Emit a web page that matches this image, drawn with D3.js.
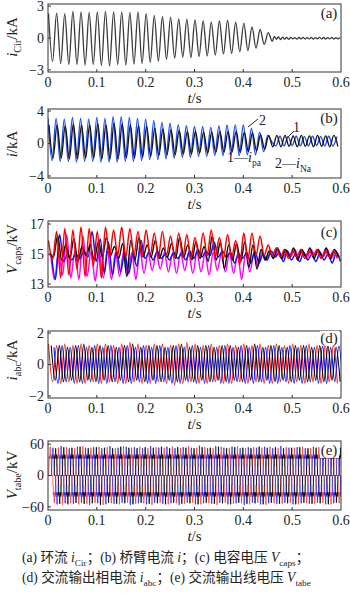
<!DOCTYPE html>
<html>
<head>
<meta charset="utf-8">
<script src="https://cdn.jsdelivr.net/npm/d3@7"></script>
<style>
  body { margin: 0; background: #fff; }
  svg { display: block; }
  text { font-family: "Liberation Serif", "Times New Roman", serif; fill: #222; }
</style>
</head>
<body>
<svg id="chart" width="350" height="594"></svg>
<script>
// ---- shared time axis ----
const xTickVals = [0, 0.1, 0.2, 0.3, 0.4, 0.5, 0.6];
const xTickLabels = ['0', '0.1', '0.2', '0.3', '0.4', '0.5', '0.6'];
const halfPeriod = 1 / 120;   // s, spacing of the peaks/troughs (60 Hz)

// ---- (a) circulating current, kA: alternating peak / trough values ----
const cirStart = 0.001;
const cirExtrema = [
  2.3,-2.2, 2.35,-2.4, 2.3,-2.5, 2.5,-2.5, 2.45,-2.55, 2.4,-2.5,
  2.45,-2.6, 2.5,-2.65, 2.45,-2.5, 2.45,-2.55, 2.4,-2.45, 2.45,-2.4,
  2.3,-2.3, 2.1,-2.2, 2.0,-2.0, 1.95,-1.9, 1.8,-1.8, 1.75,-1.85,
  1.7,-1.75, 1.6,-1.7, 1.5,-1.6, 1.6,-1.5, 1.65,-1.45, 1.5,-1.3,
  1.4,-1.2, 1.05,-0.95, 0.8,-0.6, 0.5,-0.3
];
const cirRippleStart = 0.4635;
const cirRippleStep = 0.0042;
const cirRipple = [
  0.15,-0.12, 0.1,-0.15, 0.08,-0.1, 0.05,-0.12, 0.06,-0.08, 0.04,-0.1,
  0.05,-0.09, 0.06,-0.1, 0.04,-0.08, 0.05,-0.1, 0.04,-0.07, 0.06,-0.09,
  0.05,-0.1, 0.04,-0.08, 0.05,-0.09, 0.04,-0.08, 0.05
];

// ---- (b) arm currents, kA ----
const armNaStart = 0.0;
const armNa = [
  3.1,-2.1, 3.1,-2.2, 3.0,-2.2, 3.2,-2.3, 3.1,-2.2, 3.0,-2.2,
  3.2,-2.3, 3.1,-2.3, 3.3,-2.3, 3.3,-2.2, 3.2,-2.2, 3.1,-2.1,
  3.0,-2.0, 2.8,-2.0, 2.6,-1.9, 2.5,-1.8, 2.3,-1.7, 2.2,-1.7,
  2.1,-1.6, 2.1,-1.6, 2.0,-1.5, 2.2,-1.5, 2.3,-1.4, 2.3,-1.5,
  2.3,-1.4, 1.9,-1.4, 1.4,-1.0, 1.0,0.2,
  -0.3,0.9, -0.3,0.85, -0.25,0.9, -0.3,0.85, -0.3,0.9, -0.25,0.85, -0.3,0.9, -0.3,0.85
];
const armPaStart = 0.002;
const armPa = [
  2.3,-1.8, 2.3,-1.8, 2.2,-1.9, 2.4,-1.9, 2.3,-1.8, 2.3,-1.8,
  2.4,-1.9, 2.3,-1.9, 2.5,-1.9, 2.4,-1.8, 2.3,-1.8, 2.2,-1.7,
  2.1,-1.6, 1.9,-1.5, 1.8,-1.4, 1.7,-1.4, 1.6,-1.3, 1.5,-1.3,
  1.5,-1.2, 1.4,-1.2, 1.4,-1.1, 1.5,-1.1, 1.5,-1.0, 1.5,-1.1,
  1.4,-1.0, 1.3,-0.9, 1.1,-0.7, 1.0,-0.4,
  1.0,-0.4, 1.0,-0.35, 0.95,-0.4, 1.0,-0.35, 0.95,-0.4, 1.0,-0.35, 0.95,-0.4, 1.0,-0.35
];

// ---- (c) capacitor voltages, kV ----
const capRedStart = 0.001;
const capRed = [
  15.9,14.6, 16.5,13.4, 16.7,13.6, 16.6,14.0, 16.8,13.5, 16.7,14.2,
  16.5,13.4, 16.8,14.8, 16.6,14.9, 16.8,14.8, 16.7,14.9, 16.5,14.8,
  16.6,14.9, 16.4,14.8, 16.5,14.9, 16.2,14.8, 16.4,14.8, 16.3,14.7,
  16.1,14.8, 16.4,14.9, 16.6,14.8, 16.1,14.7, 16.3,14.8, 15.9,14.3,
  16.4,14.6, 16.4,14.9, 16.2,14.9, 15.6,14.9,
  15.4,14.8, 15.3,14.7, 15.2,14.8, 15.3,14.7, 15.2,14.9, 15.3,14.7, 15.2,14.8, 15.2,14.7
];
const capMagentaStart = 0.005;
const capMagenta = [
  15.2,13.3, 15.1,13.6, 16.3,13.4, 15.2,13.3, 16.2,13.5, 15.2,13.2,
  15.1,13.4, 15.2,13.3, 15.1,13.5, 15.2,13.6, 15.1,13.3, 15.2,13.7,
  15.1,13.9, 15.0,14.0, 15.1,13.8, 15.0,13.7, 15.1,13.9, 15.0,13.7,
  15.1,13.8, 15.0,13.6, 15.1,13.9, 15.0,13.8, 15.1,13.7, 15.0,13.3,
  15.1,13.8, 15.0,14.2, 15.1,14.6, 15.0,14.8,
  15.3,14.7, 15.2,14.8, 15.3,14.8, 15.2,14.7, 15.3,14.9, 15.2,14.8, 15.3,14.7, 15.2,14.8
];
const capBlackStart = 0.003;
const capBlack = [
  15.0,14.8, 16.2,14.6, 15.6,14.7, 16.0,14.5, 15.5,14.9, 15.6,14.6,
  15.8,14.8, 16.1,14.9, 15.5,14.7, 15.7,13.5, 15.9,14.6, 16.1,14.8,
  15.6,14.8, 15.9,14.7, 15.4,14.8, 15.7,14.7, 16.1,14.8, 15.6,14.6,
  15.8,14.7, 15.5,14.5, 16.2,14.6, 15.8,14.0, 15.6,14.6, 15.7,14.5,
  15.8,14.1, 15.6,14.0, 15.3,14.6, 15.2,14.7,
  15.4,14.7, 15.3,14.8, 15.4,14.6, 15.3,14.8, 15.4,14.7, 15.3,14.8, 15.4,14.7, 15.3,14.8
];
const capBlueStart = 0.007;
const capBlue = [
  15.0,13.3, 16.3,14.5, 15.0,14.6, 15.0,14.7, 15.2,14.8, 16.5,14.5,
  16.0,13.7, 15.8,13.6, 15.2,13.8, 15.1,13.7, 15.0,14.2, 15.9,14.7,
  15.1,14.6, 15.2,14.7, 15.0,14.6, 15.1,14.7, 15.0,14.6, 15.2,14.7,
  15.3,14.8, 15.2,14.9, 15.8,14.8, 15.2,14.8, 15.1,14.4, 15.0,14.7,
  15.1,14.4, 15.2,14.4, 15.0,14.6, 15.2,14.8,
  15.1,14.5, 15.2,14.6, 15.0,14.5, 15.1,14.6, 15.0,14.5, 15.1,14.6, 15.0,14.4, 15.1,14.5
];

// ---- (d) AC phase currents, kA ----
const phaseStarts = [0.001, 0.0066, 0.0122];   // red, black, blue
const phaseRed = [
  1.3,-1.1, 1.2,-1.2, 1.3,-1.1, 1.2,-1.2, 1.3,-1.2, 1.2,-1.1, 1.3,-1.2, 1.3,-1.1, 1.2,-1.2,
  1.3,-1.2, 1.4,-1.1, 1.3,-1.2, 1.2,-1.2, 1.3,-1.1, 1.3,-1.2, 1.2,-1.3, 1.3,-1.2, 1.4,-1.1,
  1.3,-1.2, 1.2,-1.2, 1.3,-1.1, 1.2,-1.2, 1.3,-1.2, 1.2,-1.1, 1.3,-1.2, 1.2,-1.1, 1.3,-1.2,
  1.2,-1.2, 1.3,-1.1, 1.2,-1.2, 1.3,-1.1, 1.2,-1.2, 1.3,-1.1, 1.2,-1.2, 1.3,-1.1, 1.2,-1.2
];
const phaseBlack = [
  1.2,-1.0, 1.2,-1.1, 1.1,-1.0, 1.2,-1.1, 1.3,-1.0, 1.1,-1.1, 1.2,-1.0, 1.2,-1.1, 1.1,-1.0,
  1.2,-1.1, 1.3,-1.0, 1.1,-1.1, 1.2,-1.0, 1.2,-1.1, 1.1,-1.0, 1.2,-1.1, 1.3,-1.0, 1.1,-1.1,
  1.2,-1.0, 1.2,-1.1, 1.1,-1.0, 1.2,-1.1, 1.2,-1.0, 1.1,-1.1, 1.2,-1.0, 1.3,-1.1, 1.1,-1.0,
  1.2,-1.1, 1.2,-1.0, 1.1,-1.1, 1.2,-1.0, 1.2,-1.1, 1.1,-1.0, 1.2,-1.1, 1.2,-1.0, 1.1,-1.1
];
const phaseBlue = [
  1.1,-1.2, 1.2,-1.1, 1.1,-1.2, 1.2,-1.2, 1.1,-1.1, 1.2,-1.2, 1.1,-1.2, 1.2,-1.1, 1.1,-1.2,
  1.2,-1.2, 1.1,-1.1, 1.2,-1.2, 1.1,-1.2, 1.2,-1.1, 1.1,-1.2, 1.2,-1.2, 1.1,-1.1, 1.2,-1.2,
  1.1,-1.2, 1.2,-1.1, 1.1,-1.2, 1.2,-1.2, 1.1,-1.1, 1.2,-1.2, 1.1,-1.2, 1.2,-1.1, 1.1,-1.2,
  1.2,-1.2, 1.1,-1.1, 1.2,-1.2, 1.1,-1.2, 1.2,-1.1, 1.1,-1.2, 1.2,-1.2, 1.1,-1.1, 1.2,-1.2
];

// ---- (e) AC line voltages, kV: switching spike per half cycle + plateau level ----
const linePlateau = 37;
const lineShape = [   // [fraction of half cycle, fraction of plateau ('S' = spike)]
  [0, 0], [0.08, 0.5], [0.16, 1], [0.24, 0.88], [0.32, 1.1], [0.4, 'S'],
  [0.46, 1], [0.54, 0.88], [0.62, 1.08], [0.7, 0.5], [0.78, 0]
];
const lineStarts = [0.001, 0.0066, 0.0121];     // red, blue, black
const lineRed = [
  55,-52, 53,-56, 54,-53, 52,-55, 56,-54, 53,-52, 55,-56, 54,-53, 52,-55,
  56,-52, 53,-54, 55,-53, 52,-56, 54,-52, 53,-55, 55,-53, 52,-54, 56,-52,
  53,-55, 54,-53, 52,-56, 55,-52, 53,-54, 56,-53, 52,-55, 54,-52, 53,-56,
  55,-53, 52,-54, 54,-52, 53,-55, 55,-53, 52,-54, 54,-52, 53,-55, 55,-53
];
const lineBlue = [
  53,-55, 56,-53, 52,-54, 55,-52, 53,-56, 54,-53, 52,-55, 56,-54, 53,-52,
  55,-56, 54,-53, 52,-55, 56,-52, 53,-54, 55,-53, 52,-56, 54,-52, 53,-55,
  57,-53, 52,-54, 56,-52, 53,-55, 55,-53, 52,-56, 54,-52, 53,-55, 55,-53,
  52,-54, 56,-52, 53,-55, 54,-53, 52,-54, 55,-52, 53,-55, 54,-53, 52,-54
];
const lineBlack = [
  52,-54, 54,-55, 53,-52, 55,-54, 52,-53, 54,-56, 53,-52, 52,-54, 55,-53,
  53,-55, 52,-52, 54,-54, 53,-53, 55,-55, 52,-52, 54,-54, 53,-53, 52,-55,
  54,-52, 53,-54, 55,-53, 52,-55, 54,-52, 53,-54, 52,-53, 55,-55, 53,-52,
  54,-54, 52,-53, 53,-55, 54,-52, 52,-54, 53,-53, 54,-55, 52,-52, 53,-54
];

// ---- layout ----
const svg = d3.select('#chart');
const plotLeft = 48, plotRight = 341;
const x = d3.scaleLinear().domain([0, 0.6]).range([plotLeft, plotRight]);

const line = d3.line()
  .x(d => x(d.t))
  .curve(d3.curveMonotoneX);

function toPoints(start, step, values) {
  return values.map((v, i) => ({ t: start + i * step, v }));
}

// text with italic / subscript parts
function rich(sel, parts, size) {
  let shift = 0;
  parts.forEach(p => {
    const ts = sel.append('tspan').text(p.t);
    const target = p.sub ? size * 0.28 : 0;
    if (target !== shift) ts.attr('dy', target - shift);
    shift = target;
    if (p.i) ts.attr('font-style', 'italic');
    if (p.sub) ts.attr('font-size', size * 0.68);
  });
}

function panel(cfg) {
  const g = svg.append('g');
  const y = d3.scaleLinear().domain(cfg.domain).range([cfg.bottom, cfg.top]);
  const clipId = 'clip-' + cfg.tag;
  svg.append('clipPath').attr('id', clipId)
    .append('rect')
    .attr('x', plotLeft).attr('y', cfg.top)
    .attr('width', plotRight - plotLeft).attr('height', cfg.bottom - cfg.top);

  const lines = g.append('g').attr('clip-path', `url(#${clipId})`);
  cfg.series.forEach(s => {
    lines.append('path')
      .attr('d', line.y(d => y(d.v)).curve(s.curve || d3.curveMonotoneX)(s.points))
      .attr('fill', 'none')
      .attr('stroke', s.color)
      .attr('stroke-width', s.width)
      .attr('stroke-linejoin', 'round');
  });

  // frame
  g.append('rect')
    .attr('x', plotLeft).attr('y', cfg.top)
    .attr('width', plotRight - plotLeft).attr('height', cfg.bottom - cfg.top)
    .attr('fill', 'none').attr('stroke', '#333').attr('stroke-width', 1);

  // x ticks
  g.selectAll('.xt').data(xTickVals.slice(1, -1)).join('line')
    .attr('x1', d => x(d)).attr('x2', d => x(d))
    .attr('y1', cfg.bottom).attr('y2', cfg.bottom - 3)
    .attr('stroke', '#333');
  g.selectAll('.xl').data(xTickVals).join('text')
    .attr('x', d => x(d)).attr('y', cfg.bottom + 14.5)
    .attr('text-anchor', 'middle').attr('font-size', 14)
    .text((d, i) => xTickLabels[i]);
  const tl = g.append('text')
    .attr('x', (plotLeft + plotRight) / 2).attr('y', cfg.bottom + 30.5)
    .attr('text-anchor', 'middle').attr('font-size', 15);
  rich(tl, [{ t: 't', i: true }, { t: '/s' }], 15);

  // y ticks
  cfg.ticks.forEach(v => {
    g.append('line')
      .attr('x1', plotLeft).attr('x2', plotLeft + 3)
      .attr('y1', y(v)).attr('y2', y(v)).attr('stroke', '#333');
    g.append('text')
      .attr('x', 44).attr('y', y(v)).attr('dy', '0.35em')
      .attr('text-anchor', 'end').attr('font-size', 14)
      .text(v < 0 ? '\u2212' + Math.abs(v) : v);
  });

  // y title
  const yt = g.append('text')
    .attr('transform', `translate(17,${cfg.labelY}) rotate(-90)`)
    .attr('text-anchor', 'middle').attr('font-size', 15);
  rich(yt, cfg.label, 15);

  // panel tag
  if (cfg.tagBg) {
    g.append('rect').attr('x', 320).attr('y', cfg.tagY - 12).attr('width', 19).attr('height', 15).attr('fill', '#fff');
  }
  g.append('text')
    .attr('x', 329).attr('y', cfg.tagY)
    .attr('text-anchor', 'middle').attr('font-size', 15)
    .text(`(${cfg.tag})`);
  return { g, y };
}

// (a)
panel({
  tag: 'a', top: 4, bottom: 72, domain: [-3.2, 3.2], ticks: [3, 0, -3], labelY: 37, tagY: 18,
  label: [{ t: 'i', i: true }, { t: 'Cir', sub: true }, { t: '/kA' }],
  series: [{
    color: '#3a3a3a', width: 1.3,
    points: toPoints(cirStart, halfPeriod, cirExtrema)
      .concat(toPoints(cirRippleStart, cirRippleStep, cirRipple))
  }]
});

// (b)
const pb = panel({
  tag: 'b', top: 109, bottom: 178, domain: [-4.25, 4.25], ticks: [4, 0, -4], labelY: 144, tagY: 123,
  label: [{ t: 'i', i: true }, { t: '/kA' }],
  series: [
    { color: '#1f4ff0', width: 1.4, points: toPoints(armNaStart, halfPeriod, armNa) },
    { color: '#111', width: 1.3, points: toPoints(armPaStart, halfPeriod, armPa) }
  ]
});
// annotations in (b)
pb.g.append('line').attr('x1', 248).attr('y1', 127).attr('x2', 258).attr('y2', 119).attr('stroke', '#222');
pb.g.append('text').attr('x', 259).attr('y', 125).attr('font-size', 14).text('2');
pb.g.append('line').attr('x1', 286).attr('y1', 139).attr('x2', 294).attr('y2', 131).attr('stroke', '#222');
pb.g.append('text').attr('x', 293).attr('y', 132).attr('font-size', 14).text('1');
rich(pb.g.append('text').attr('x', 227).attr('y', 162).attr('font-size', 14),
  [{ t: '1\u2014' }, { t: 'i', i: true }, { t: 'pa', sub: true }], 14);
rich(pb.g.append('text').attr('x', 275).attr('y', 168).attr('font-size', 14),
  [{ t: '2\u2014' }, { t: 'i', i: true }, { t: 'Na', sub: true }], 14);

// (c)
panel({
  tag: 'c', top: 221, bottom: 287, domain: [12.8, 17.2], ticks: [17, 15, 13], labelY: 249, tagY: 237,
  label: [{ t: 'V', i: true }, { t: 'caps', sub: true }, { t: '/kV' }],
  series: [
    { color: '#ff00ff', width: 1.5, points: toPoints(capMagentaStart, halfPeriod, capMagenta) },
    { color: '#1010ff', width: 1.5, points: toPoints(capBlueStart, halfPeriod, capBlue) },
    { color: '#000', width: 1.4, points: toPoints(capBlackStart, halfPeriod, capBlack) },
    { color: '#ff0000', width: 1.5, points: toPoints(capRedStart, halfPeriod, capRed) }
  ]
});

// (d)
panel({
  tag: 'd', top: 331, bottom: 398, domain: [-2.13, 2.13], ticks: [2, 0, -2], labelY: 360, tagY: 343, tagBg: true,
  label: [{ t: 'i', i: true }, { t: 'abc', sub: true }, { t: '/kA' }],
  series: [
    { color: '#ff1010', width: 1.1, points: toPoints(phaseStarts[0], halfPeriod, phaseRed) },
    { color: '#1010ff', width: 1.1, points: toPoints(phaseStarts[2], halfPeriod, phaseBlue) },
    { color: '#000', width: 1.1, points: toPoints(phaseStarts[1], halfPeriod, phaseBlack) }
  ]
});

// (e)
function linePoints(start, spikes) {
  const pts = [];
  spikes.forEach((sp, i) => {
    const sign = Math.sign(sp);
    lineShape.forEach(([f, m]) => {
      pts.push({ t: start + (i + f) * halfPeriod, v: m === 'S' ? sp : sign * linePlateau * m });
    });
  });
  return pts;
}
panel({
  tag: 'e', top: 441, bottom: 510, domain: [-66, 66], ticks: [60, 0, -60], labelY: 475, tagY: 455, tagBg: true,
  label: [{ t: 'V', i: true }, { t: 'tabe', sub: true }, { t: '/kV' }],
  series: [
    { color: '#ff3030', width: 0.75, curve: d3.curveStepAfter, points: linePoints(lineStarts[0], lineRed) },
    { color: '#2020ff', width: 0.75, curve: d3.curveStepAfter, points: linePoints(lineStarts[1], lineBlue) },
    { color: '#000', width: 0.8, curve: d3.curveStepAfter, points: linePoints(lineStarts[2], lineBlack) }
  ]
});

// caption
const capFont = '"Liberation Serif", "Noto Sans CJK SC", serif';
const cap = svg.append('g').attr('font-size', 13.6);
rich(cap.append('text').attr('x', 22).attr('y', 562).style('font-family', capFont).attr('fill', '#333'),
  [{ t: '(a) 环流 ' }, { t: 'i', i: true }, { t: 'Cir', sub: true }, { t: '；(b) 桥臂电流 ' }, { t: 'i', i: true },
   { t: '；(c) 电容电压 ' }, { t: 'V', i: true }, { t: 'caps', sub: true }, { t: '；' }], 13.6);
rich(cap.append('text').attr('x', 22).attr('y', 582).style('font-family', capFont).attr('fill', '#333'),
  [{ t: '(d) 交流输出相电流 ' }, { t: 'i', i: true }, { t: 'abc', sub: true }, { t: '；(e) 交流输出线电压 ' },
   { t: 'V', i: true }, { t: 'tabe', sub: true }], 13.6);
</script>
</body>
</html>
